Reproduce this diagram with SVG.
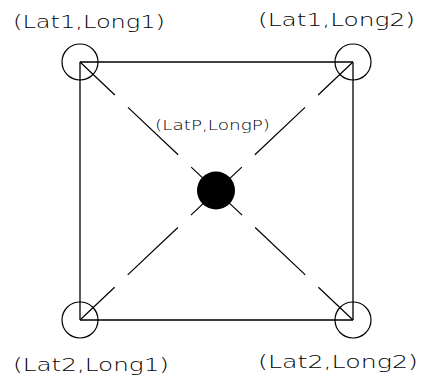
<svg xmlns="http://www.w3.org/2000/svg" width="421" height="376" viewBox="0 0 421 376">
<style>
.lbl{font-family:"DejaVu Sans","Liberation Sans",sans-serif;font-weight:200;font-size:18px;fill:#000;}
.sm{font-size:14px;}
.ring{fill:none;stroke:#000;stroke-width:1.2;}
.edge{stroke:#000;stroke-width:1.3;fill:none;}
.diag{stroke:#000;stroke-width:1.2;fill:none;stroke-dasharray:48 18 69 18 70 18 69 18 48 100;}
</style>
<rect width="421" height="376" fill="#fff"/>
<g id="connectors">
<line class="edge" x1="80" y1="62" x2="353" y2="62"/>
<line class="edge" x1="353" y1="62" x2="353" y2="320"/>
<line class="edge" x1="353" y1="320" x2="80" y2="320"/>
<line class="edge" x1="80" y1="320" x2="80" y2="62"/>
<line class="diag" x1="80" y1="62" x2="353" y2="320"/>
<line class="diag" x1="353" y1="62" x2="80" y2="320"/>
</g>
<g id="n-lat1-long1">
<circle class="ring" cx="80" cy="62" r="18"/>
<text class="lbl" x="13" y="28" textLength="152" lengthAdjust="spacingAndGlyphs">(Lat1,Long1)</text>
</g>
<g id="n-lat1-long2">
<circle class="ring" cx="353" cy="62" r="18"/>
<text class="lbl" x="258" y="26" textLength="157" lengthAdjust="spacingAndGlyphs">(Lat1,Long2)</text>
</g>
<g id="n-lat2-long1">
<circle class="ring" cx="80" cy="320" r="18"/>
<text class="lbl" x="13" y="371" textLength="156" lengthAdjust="spacingAndGlyphs">(Lat2,Long1)</text>
</g>
<g id="n-lat2-long2">
<circle class="ring" cx="353" cy="320" r="18"/>
<text class="lbl" x="258" y="368" textLength="160" lengthAdjust="spacingAndGlyphs">(Lat2,Long2)</text>
</g>
<g id="n-latp-longp">
<circle cx="216" cy="190.5" r="19" fill="#000"/>
<text class="lbl sm" x="155" y="130" textLength="115" lengthAdjust="spacingAndGlyphs">(LatP,LongP)</text>
</g>
</svg>
